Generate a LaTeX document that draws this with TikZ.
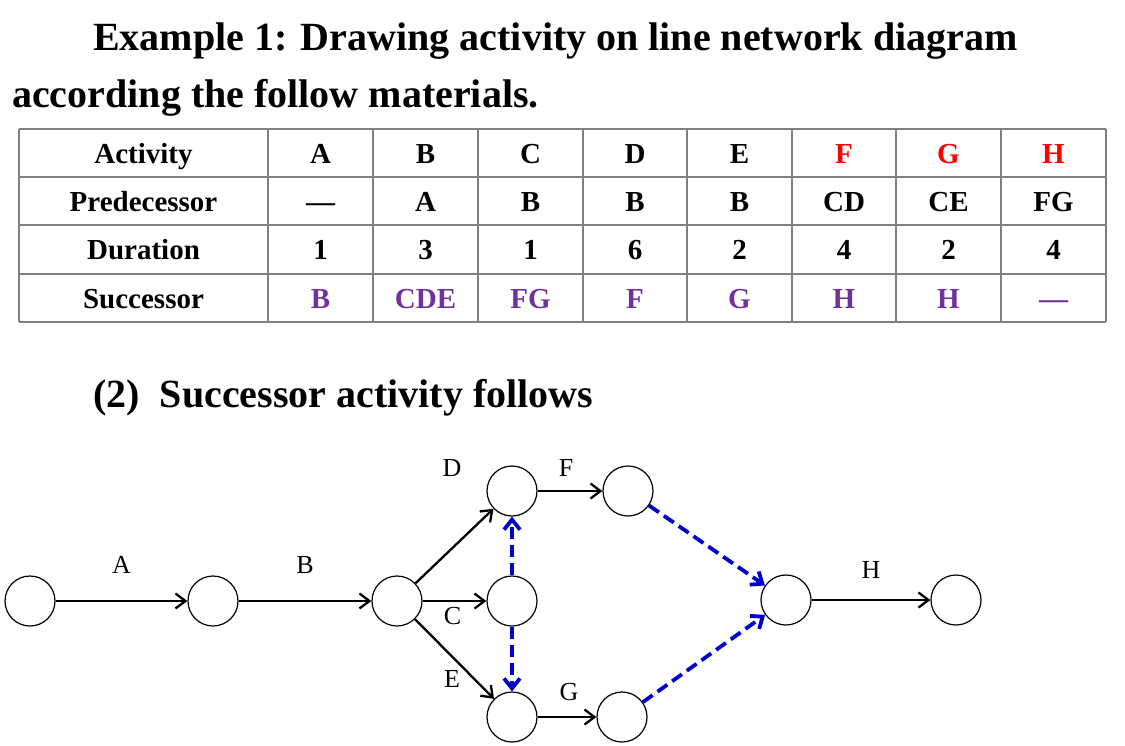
\documentclass[tikz,border=0pt]{standalone}
\usepackage{fontspec}
\setmainfont{Liberation Serif}
\usetikzlibrary{arrows.meta,positioning}
\definecolor{succpurple}{RGB}{112,48,160}
\definecolor{dummyblue}{RGB}{0,0,204}
\definecolor{gridgray}{RGB}{128,128,128}
\tikzset{
  event/.style={draw, circle, minimum size=50pt, inner sep=0pt, line width=1.2pt},
  activity/.style={-{Straight Barb[length=10pt,width=15pt]}, line width=2.3pt},
  dummy/.style={-{Straight Barb[length=10pt,width=16pt]}, dash pattern=on 12pt off 6pt, line width=3.8pt, draw=dummyblue},
  actlabel/.style={font=\fontsize{26}{26}\selectfont, inner sep=0pt},
  heading/.style={font=\fontsize{40}{48}\selectfont\bfseries, inner sep=0pt, anchor=base west},
  cell/.style={font=\fontsize{29}{30}\selectfont\bfseries, inner sep=0pt, anchor=base},
  gridline/.style={draw=gridgray, line width=1.6pt}
}
\begin{document}
\begin{tikzpicture}[x=1pt, y=-1pt]
\useasboundingbox (0,0) rectangle (1125,745);
% headings
\node[heading] (title1) at (93,50) {Example 1: Drawing activity on line network diagram};
\node[heading] (title2) at (12,107) {according the follow materials.};
\node[heading] (title3) at (93,407) {(2)~~Successor activity follows};
% table
\foreach \r in {129,177,225,274,322}
  \draw[gridline] (19,\r) -- (1106,\r);
\foreach \c in {19,268,373,478,583,687,792,896,1001,1106}
  \draw[gridline] (\c,129) -- (\c,322);
\foreach \y/\t [count=\i] in {163/Activity,211/Predecessor,259/Duration,308/Successor}
  \node[cell] (head\i) at (143.5,\y) {\t};
\foreach \x/\a/\ac/\p/\d/\s [count=\i] in {320.5/A/black/\textemdash/1/B, 425.5/B/black/A/3/CDE,
    530.5/C/black/B/1/FG, 635/D/black/B/6/F, 739.5/E/black/B/2/G, 844/F/red/CD/4/H,
    948.5/G/red/CE/2/H, 1053.5/H/red/FG/4/\textemdash} {
  \node[cell, text=\ac] (act\i) at (\x,163) {\a};
  \node[cell] (pred\i) at (\x,211) {\p};
  \node[cell] (dur\i) at (\x,259) {\d};
  \node[cell, text=succpurple] (succ\i) at (\x,308) {\s};
}
% network
\node[event] (e1) at (30,601) {};
\node[event] (e2) at (213,601) {};
\node[event] (e3) at (397,601) {};
\node[event] (e4) at (512,491) {};
\node[event] (e5) at (512,601) {};
\node[event] (e6) at (512,717) {};
\node[event] (e7) at (628,491) {};
\node[event] (e8) at (622,717) {};
\node[event] (e9) at (786,600) {};
\node[event] (e10) at (956,600) {};
\draw[activity] (e1) -- node[actlabel, above=26pt] (labA) {A} (e2);
\draw[activity] (e2) -- node[actlabel, above=26pt] (labB) {B} (e3);
\draw[activity] (e3) -- (e4);
\draw[activity] (e3) -- node[actlabel, below=5pt, xshift=-2pt] (labC) {C} (e5);
\draw[activity] (e3) -- (e6);
\draw[activity] (e4) -- node[actlabel, above=13pt, xshift=-4pt] (labF) {F} (e7);
\draw[activity] (e6) -- node[actlabel, above=15pt, xshift=2pt] (labG) {G} (e8);
\draw[activity] (e9) -- node[actlabel, above=20pt] (labH) {H} (e10);
\node[actlabel] (labD) at (452,468) {D};
\node[actlabel] (labE) at (452,679) {E};
\draw[dummy] (e5) -- (e4);
\draw[dummy] (e5) -- (e6);
\draw[dummy] (e7) -- (e9);
\draw[dummy] (e8) -- (e9);
\end{tikzpicture}
\end{document}
